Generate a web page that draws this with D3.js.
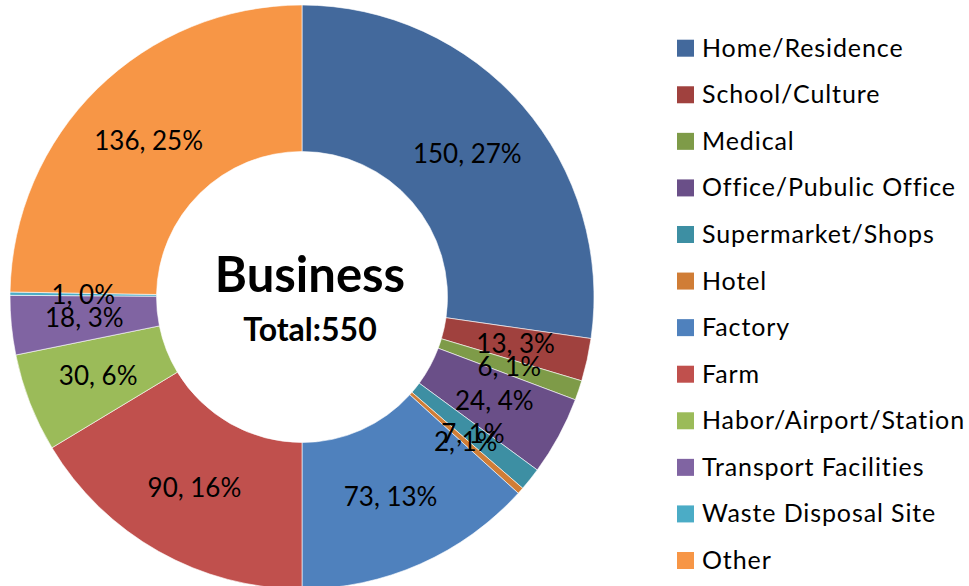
<!DOCTYPE html>
<html>
<head>
<meta charset="utf-8">
<script src="https://cdn.jsdelivr.net/npm/d3@7"></script>
<style>
html,body{margin:0;padding:0;background:#fff;}
svg{display:block;}
text{font-family:Lato,"Open Sans",sans-serif;}
</style>
</head>
<body>
<svg id="chart" width="969" height="586"></svg>
<script>
const categories = ["Home/Residence","School/Culture","Medical","Office/Pubulic Office","Supermarket/Shops","Hotel","Factory","Farm","Habor/Airport/Station","Transport Facilities","Waste Disposal Site","Other"];
const values = [150,13,6,24,7,2,73,90,30,18,1,136];
const percentLabels = ["27%","3%","1%","4%","1%","1%","13%","16%","6%","3%","0%","25%"];
const colors = ["#43699C","#A0413E","#7E9B48","#6A4F88","#3D8FA3","#D07D36","#4F81BD","#C0504D","#9BBB59","#8064A2","#4BACC6","#F79646"];
const titleText = "Business";
const totalText = "Total:550";

const svg = d3.select("#chart");
const cx = 302, cy = 297, rOuter = 292, rInner = 145.5;

const pie = d3.pie().sort(null).value(d => d.value);
const data = categories.map((c,i) => ({name:c, value:values[i], pct:percentLabels[i], color:colors[i]}));
const arcs = pie(data);
const arc = d3.arc().innerRadius(rInner).outerRadius(rOuter);

const g = svg.append("g").attr("transform", `translate(${cx},${cy})`);
g.selectAll("path").data(arcs).join("path")
  .attr("d", arc)
  .attr("fill", d => d.data.color)
  .attr("stroke", "#fff")
  .attr("stroke-width", 0.6);

g.selectAll("text.lbl").data(arcs).join("text")
  .attr("class","lbl")
  .attr("transform", d => `translate(${arc.centroid(d)})`)
  .attr("text-anchor","middle")
  .attr("dy","0.35em")
  .attr("font-size", 26)
  .attr("fill","#000")
  .text(d => `${d.data.value}, ${d.data.pct}`);

g.append("text").attr("text-anchor","middle").attr("x",8).attr("y",-5)
  .attr("font-size",49).attr("font-weight","bold").text(titleText);
g.append("text").attr("text-anchor","middle").attr("x",8).attr("y",44)
  .attr("font-size",32).attr("font-weight","bold").text(totalText);

const legend = svg.append("g").attr("transform","translate(677,0)");
const ly = d3.scalePoint().domain(categories).range([56.7, 569]);
const items = legend.selectAll("g").data(data).join("g")
  .attr("transform", d => `translate(0,${ly(d.name)})`);
items.append("rect").attr("x",0).attr("y",-17).attr("width",17).attr("height",17).attr("fill", d => d.color);
items.append("text").attr("x",25).attr("y",0).attr("font-size",25).attr("letter-spacing",0.9).attr("fill","#000").text(d => d.name);
</script>
</body>
</html>
